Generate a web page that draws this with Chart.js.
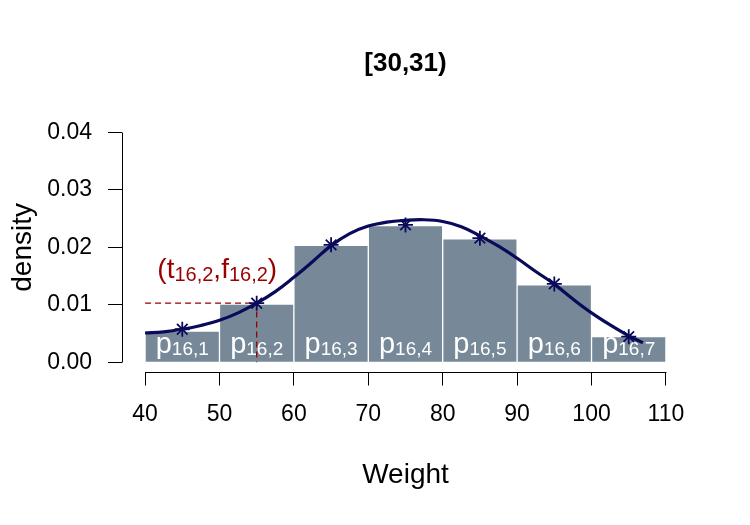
<!DOCTYPE html>
<html>
<head>
<meta charset="utf-8">
<script src="https://cdn.jsdelivr.net/npm/chart.js@4.4.0/dist/chart.umd.min.js"></script>
<style>
  body { margin: 0; background: #fff; }
  #wrap { width: 750px; height: 525px; }
</style>
</head>
<body>
<div id="wrap"><canvas id="myChart" width="750" height="525"></canvas></div>
<script>
// histogram bins (midpoints) and bar heights
const binMids = [45, 55, 65, 75, 85, 95, 105];
const barHeights = [0.00545, 0.01012, 0.02033, 0.0238, 0.02148, 0.01347, 0.00446];
const binLabels = ['16,1', '16,2', '16,3', '16,4', '16,5', '16,6', '16,7'];

// density values at the midpoints (stars)
const starValues = [0.00575, 0.01028, 0.02044, 0.0239, 0.0216, 0.01364, 0.00446];

// smooth density curve
const curveX = [40, 42.5, 45, 47.5, 50, 52.5, 55, 57.5, 60, 62.5, 65, 67.5, 70, 72.5,
                75, 77.5, 80, 82.5, 85, 87.5, 90, 92.5, 95, 97.5, 100, 102.5, 105, 106.9];
const curveY = [0.0051, 0.0053, 0.00575, 0.0064, 0.0073, 0.0086, 0.01028, 0.0123, 0.0148, 0.0175,
                0.0203, 0.0224, 0.0237, 0.0244, 0.0247, 0.0248, 0.0245, 0.0236, 0.0220, 0.0202,
                0.0181, 0.0158, 0.0136, 0.0110, 0.0086, 0.0065, 0.0046, 0.0034];

// highlighted point (t16,2, f16,2)
const markX = 55;
const markY = 0.01028;

const xTicks = [40, 50, 60, 70, 80, 90, 100, 110];
const yTicks = [0, 0.01, 0.02, 0.03, 0.04];

const FONT = "'Liberation Sans', Arial, Helvetica, sans-serif";
const NAVY = '#0a0a5a';
const DARKRED = '#990000';

function drawSubText(ctx, parts, x, y, mainSize, subSize, subShift) {
    // parts: [[text, isSub], ...]; x = centre, y = baseline
    let w = 0;
    for (const [t, s] of parts) {
        ctx.font = (s ? subSize : mainSize) + 'px ' + FONT;
        w += ctx.measureText(t).width;
    }
    let cx = x - w / 2;
    ctx.textAlign = 'left';
    ctx.textBaseline = 'alphabetic';
    for (const [t, s] of parts) {
        ctx.font = (s ? subSize : mainSize) + 'px ' + FONT;
        ctx.fillText(t, cx, s ? y + subShift : y);
        cx += ctx.measureText(t).width;
    }
}

const extras = {
    id: 'extras',
    afterDatasetDraw(chart, args) {
        if (args.index !== 3) return;
        // labels inside the bars
        const ctx = chart.ctx;
        const xs = chart.scales.x, ys = chart.scales.y;
        ctx.save();
        ctx.fillStyle = '#ffffff';
        const base = ys.getPixelForValue(0);
        for (let i = 0; i < binMids.length; i++) {
            drawSubText(ctx, [['p', false], [binLabels[i], true]],
                xs.getPixelForValue(binMids[i]), base - 9, 29, 19, 2);
        }
        ctx.restore();
    },
    afterDraw(chart) {
        const ctx = chart.ctx;
        const xs = chart.scales.x, ys = chart.scales.y;
        const area = chart.chartArea;
        ctx.save();
        // R style axis lines, only over the tick range
        ctx.strokeStyle = '#000';
        ctx.lineWidth = 1;
        ctx.beginPath();
        const by = Math.round(area.bottom) + 0.5;
        ctx.moveTo(Math.round(xs.getPixelForValue(xTicks[0])) + 0.5, by);
        ctx.lineTo(Math.round(xs.getPixelForValue(xTicks[xTicks.length - 1])) + 0.5, by);
        const lx = Math.round(area.left) + 0.5;
        ctx.moveTo(lx, Math.round(ys.getPixelForValue(yTicks[0])) + 0.5);
        ctx.lineTo(lx, Math.round(ys.getPixelForValue(yTicks[yTicks.length - 1])) + 0.5);
        ctx.stroke();
        // annotation text
        ctx.fillStyle = DARKRED;
        drawSubText(ctx, [['(', false], ['t', false], ['16,2', true], [',', false],
            ['f', false], ['16,2', true], [')', false]],
            xs.getPixelForValue(49.7), ys.getPixelForValue(0.0146), 28, 20, 3);
        ctx.restore();
    }
};

const ctx = document.getElementById('myChart');

new Chart(ctx, {
    data: {
        datasets: [
            {
                type: 'scatter',
                label: 'points',
                data: binMids.map((x, i) => ({x: x, y: starValues[i]})),
                pointStyle: 'star',
                pointRadius: 7.5,
                pointBorderWidth: 1.8,
                borderColor: NAVY,
                backgroundColor: NAVY,
                order: 0
            },
            {
                type: 'line',
                label: 'density',
                data: curveX.map((x, i) => ({x: x, y: curveY[i]})),
                borderColor: NAVY,
                borderWidth: 3.2,
                pointRadius: 0,
                tension: 0.4,
                fill: false,
                order: 1
            },
            {
                type: 'line',
                label: 'guide',
                data: [{x: xTicks[0], y: markY}, {x: markX, y: markY}, {x: markX, y: 0}],
                borderColor: DARKRED,
                borderWidth: 1.3,
                borderDash: [6, 4],
                pointRadius: 0,
                tension: 0,
                fill: false,
                order: 2
            },
            {
                type: 'bar',
                label: 'hist',
                data: binMids.map((x, i) => ({x: x, y: barHeights[i]})),
                backgroundColor: '#778899',
                borderColor: '#ffffff',
                borderWidth: 1,
                barPercentage: 1,
                categoryPercentage: 1,
                order: 3
            }
        ]
    },
    options: {
        responsive: false,
        animation: false,
        devicePixelRatio: 1,
        layout: { padding: { left: 0, right: 61, top: 0, bottom: 0 } },
        scales: {
            x: {
                type: 'linear',
                min: 36.9,
                max: 113.1,
                offset: false,
                afterFit: s => { s.height = 153.5; },
                afterBuildTicks: s => { s.ticks = xTicks.map(v => ({value: v})); },
                grid: { display: true, offset: false, drawOnChartArea: false, drawTicks: true, tickLength: 14, color: '#000' },
                border: { display: false },
                ticks: {
                    padding: 15,
                    color: '#000',
                    font: { family: FONT, size: 23 },
                    maxRotation: 0,
                    autoSkip: false,
                    callback: v => String(v)
                },
                title: {
                    display: true,
                    text: 'Weight',
                    color: '#000',
                    font: { family: FONT, size: 28 },
                    padding: { top: 0, bottom: 33 }
                }
            },
            y: {
                type: 'linear',
                min: -0.0016,
                max: 0.0416,
                afterFit: s => { s.width = 122; },
                afterBuildTicks: s => { s.ticks = yTicks.map(v => ({value: v})); },
                grid: { display: true, drawOnChartArea: false, drawTicks: true, tickLength: 14, color: '#000' },
                border: { display: false },
                ticks: {
                    padding: 16,
                    color: '#000',
                    font: { family: FONT, size: 23 },
                    callback: v => v.toFixed(2)
                },
                title: {
                    display: true,
                    text: 'density',
                    color: '#000',
                    font: { family: FONT, size: 28 },
                    padding: { top: 6, bottom: 0 }
                }
            }
        },
        plugins: {
            legend: { display: false },
            tooltip: { enabled: false },
            title: {
                display: true,
                fullSize: false,
                text: '[30,31)',
                color: '#000',
                font: { family: FONT, size: 26, weight: 'bold' },
                padding: { top: 48, bottom: 44 }
            }
        }
    },
    plugins: [extras]
});
</script>
</body>
</html>
